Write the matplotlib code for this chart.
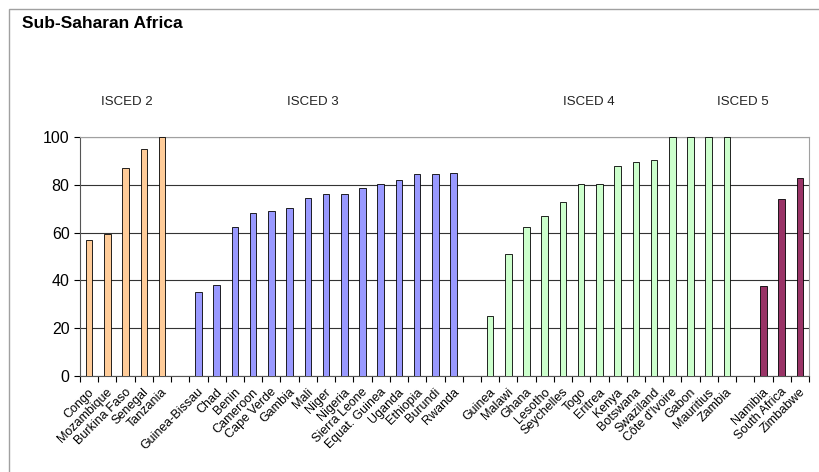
import numpy as np
import matplotlib.pyplot as plt
from matplotlib.patches import Rectangle

plt.rcParams['font.family'] = ['Liberation Sans', 'DejaVu Sans']

# data, grouped by ISCED level
isced2_names = ["Congo", "Mozambique", "Burkina Faso", "Senegal", "Tanzania"]
isced2_vals = [57, 59.5, 87, 95, 100]

isced3_names = ["Guinea-Bissau", "Chad", "Benin", "Cameroon", "Cape Verde", "Gambia",
                "Mali", "Niger", "Nigeria", "Sierra Leone", "Equat. Guinea", "Uganda",
                "Ethiopia", "Burundi", "Rwanda"]
isced3_vals = [35, 38, 62.5, 68, 69, 70.5, 74.5, 76, 76, 78.5, 80.5, 82, 84.5, 84.5, 85]

isced4_names = ["Guinea", "Malawi", "Ghana", "Lesotho", "Seychelles", "Togo", "Eritrea",
                "Kenya", "Botswana", "Swaziland", "Côte d'Ivoire", "Gabon", "Mauritius",
                "Zambia"]
isced4_vals = [25, 51, 62.5, 67, 73, 80.5, 80.5, 88, 89.5, 90.5, 100, 100, 100, 100]

isced5_names = ["Namibia", "South Africa", "Zimbabwe"]
isced5_vals = [37.5, 74, 83]

groups = [
    ("ISCED 2", isced2_names, isced2_vals, "#FFCC99"),
    ("ISCED 3", isced3_names, isced3_vals, "#9999FF"),
    ("ISCED 4", isced4_names, isced4_vals, "#CCFFCC"),
    ("ISCED 5", isced5_names, isced5_vals, "#993366"),
]

fig = plt.figure(figsize=(8.19, 4.72), dpi=100)
# outer chart frame
fig.patches.append(Rectangle((9 / 819, -0.1), 1.2, 1 - 9 / 472 + 0.1, transform=fig.transFigure,
                             fill=False, edgecolor="#a0a0a0", linewidth=1.0))
fig.text(22 / 819, 1 - 23 / 472, "Sub-Saharan Africa", fontsize=12.5, fontweight="bold",
         va="center", ha="left")

ax = fig.add_axes([80 / 819, 1 - 376 / 472, 729 / 819, 239 / 472])

labels = []
pos = 0
for i, (gname, names, vals, color) in enumerate(groups):
    x = np.arange(pos, pos + len(names)) + 0.5
    ax.bar(x, vals, width=0.36, color=color, edgecolor="black", linewidth=0.6, zorder=3)
    for xi, n in zip(x, names):
        labels.append((xi, n))
    pos += len(names) + 1
nslots = pos - 1

# group headings
label_x = [127, 313, 589, 743]
for (gname, *_), lx in zip(groups, label_x):
    fig.text(lx / 819, 1 - 102 / 472, gname, fontsize=9.5, ha="center", va="center",
             color="#222222")

ax.set_xlim(0, nslots)
ax.set_ylim(0, 100)
ax.set_yticks(range(0, 101, 20))
ax.tick_params(axis="y", labelsize=11.5, length=4, width=0.8)
ax.set_xticks(np.arange(0, nslots + 1))
ax.set_xticklabels([])
ax.tick_params(axis="x", length=4, width=0.8, direction="out")
ax.grid(axis="y", color="#333333", linewidth=0.8, zorder=1)

for xi, n in labels:
    ax.text(xi - 0.05, -4.2, n, rotation=45, ha="right", va="top", rotation_mode="anchor",
            fontsize=9, transform=ax.transData)

for s in ["top", "right"]:
    ax.spines[s].set_color("#a0a0a0")
ax.spines["left"].set_color("#555555")
ax.spines["bottom"].set_color("#555555")

fig.savefig("out.png", dpi=100)
